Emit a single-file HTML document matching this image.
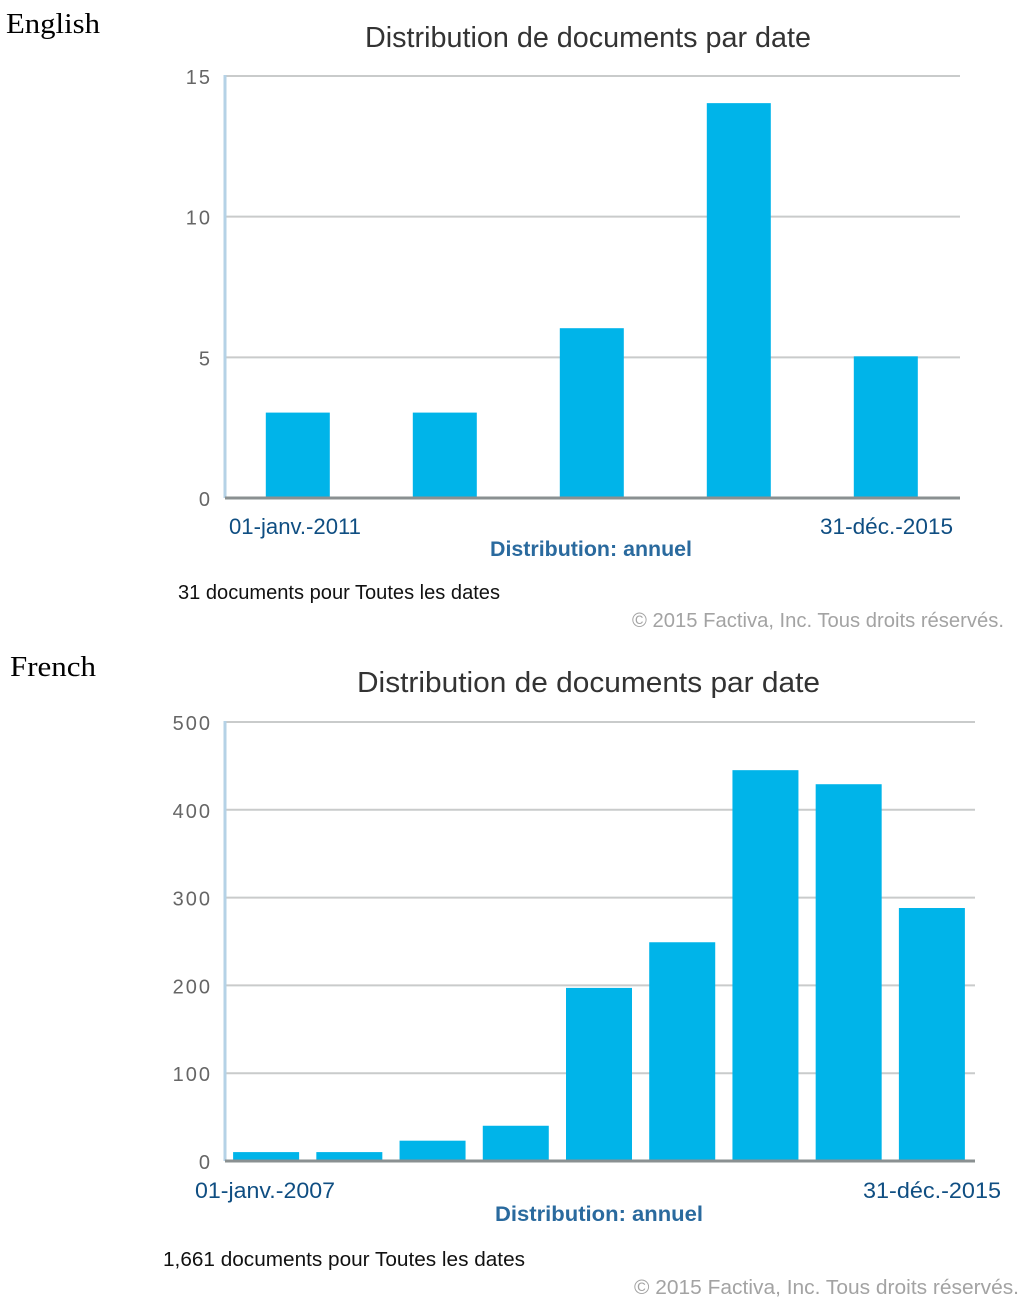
<!DOCTYPE html>
<html lang="fr">
<head>
<meta charset="utf-8">
<title>Distribution de documents par date</title>
<style>
html,body{margin:0;padding:0;background:#fff;width:1024px;height:1307px;overflow:hidden}
svg{display:block}
text{font-family:"Liberation Sans",sans-serif;filter:blur(.3px)}
.lang{font-family:"Liberation Serif",serif;font-size:28px;fill:#000}
.title{font-size:29px;fill:#333}
.ytick{font-size:20px;fill:#666;letter-spacing:2px}
.date{font-size:22px;fill:#0f4e82}
.dist{font-size:21px;font-weight:bold;fill:#2a6a9e}
.count{font-size:20px;fill:#111}
.copy{font-size:20px;fill:#a3a3a3}
</style>
</head>
<body>
<svg id="figure" width="1024" height="1307" viewBox="0 0 1024 1307" xmlns="http://www.w3.org/2000/svg">
  <text class="lang" x="6" y="33" textLength="94" lengthAdjust="spacingAndGlyphs">English</text>
  <text class="title" x="365" y="47" textLength="446" lengthAdjust="spacingAndGlyphs">Distribution de documents par date</text>
  <text class="date" x="229" y="534" textLength="132" lengthAdjust="spacingAndGlyphs">01-janv.-2011</text>
  <text class="date" x="820" y="534" textLength="133" lengthAdjust="spacingAndGlyphs">31-déc.-2015</text>
  <text class="dist" x="490" y="556" textLength="202" lengthAdjust="spacingAndGlyphs">Distribution: annuel</text>
  <text class="count" x="178" y="599" textLength="322" lengthAdjust="spacingAndGlyphs">31 documents pour Toutes les dates</text>
  <text class="copy" x="632" y="627" textLength="372" lengthAdjust="spacingAndGlyphs">© 2015 Factiva, Inc. Tous droits réservés.</text>

  <text class="lang" x="10" y="676" textLength="86" lengthAdjust="spacingAndGlyphs">French</text>
  <text class="title" x="357" y="692" textLength="463" lengthAdjust="spacingAndGlyphs">Distribution de documents par date</text>
  <text class="date" x="195" y="1198" textLength="140" lengthAdjust="spacingAndGlyphs">01-janv.-2007</text>
  <text class="date" x="863" y="1198" textLength="138" lengthAdjust="spacingAndGlyphs">31-déc.-2015</text>
  <text class="dist" x="495" y="1221" textLength="208" lengthAdjust="spacingAndGlyphs">Distribution: annuel</text>
  <text class="count" x="163" y="1266" textLength="362" lengthAdjust="spacingAndGlyphs">1,661 documents pour Toutes les dates</text>
  <text class="copy" x="634" y="1294" textLength="385" lengthAdjust="spacingAndGlyphs">© 2015 Factiva, Inc. Tous droits réservés.</text>
</svg>
<script>
const englishCategories = ['2011', '2012', '2013', '2014', '2015'];
const englishValues = [3, 3, 6, 14, 5];
const englishTicks = [0, 5, 10, 15];
const frenchCategories = ['2007', '2008', '2009', '2010', '2011', '2012', '2013', '2014', '2015'];
const frenchValues = [9, 9, 22, 39, 196, 248, 444, 428, 287];
const frenchTicks = [0, 100, 200, 300, 400, 500];

const SVG_NS = 'http://www.w3.org/2000/svg';
const figure = document.getElementById('figure');

function drawChart(categories, values, ticks, box) {
  const maxTick = ticks[ticks.length - 1];
  const yScale = function (v) { return box.bottom - (v / maxTick) * (box.bottom - box.top); };
  const band = (box.bandRight - box.bandLeft) / categories.length;
  const xCenter = function (i) { return box.bandLeft + band * (i + 0.5); };

  ticks.forEach(function (t) {
    if (t !== 0) {
      const grid = document.createElementNS(SVG_NS, 'line');
      
      
      grid.setAttribute('x1', box.left);
      grid.setAttribute('x2', box.right);
      grid.setAttribute('y1', yScale(t));
      grid.setAttribute('y2', yScale(t));
      grid.setAttribute('stroke', '#c9cbcb');
      grid.setAttribute('stroke-width', '2');
      figure.appendChild(grid);
    }
    const label = document.createElementNS(SVG_NS, 'text');
    
    
    label.setAttribute('class', 'ytick');
    label.setAttribute('x', box.left - 13);
    label.setAttribute('y', yScale(t) + 8);
    label.setAttribute('text-anchor', 'end');
    label.textContent = String(t);
    figure.appendChild(label);
  });

  const yAxis = document.createElementNS(SVG_NS, 'line');
  
  
  yAxis.setAttribute('x1', box.left);
  yAxis.setAttribute('x2', box.left);
  yAxis.setAttribute('y1', box.top - 1);
  yAxis.setAttribute('y2', box.bottom);
  yAxis.setAttribute('stroke', '#b5d2e6');
  yAxis.setAttribute('stroke-width', '3');
  figure.appendChild(yAxis);

  values.forEach(function (v, i) {
    const bar = document.createElementNS(SVG_NS, 'rect');
    
    
    bar.setAttribute('data-category', categories[i]);
    bar.setAttribute('x', xCenter(i) - box.barWidth / 2);
    bar.setAttribute('y', yScale(v) - 1);
    bar.setAttribute('width', box.barWidth);
    bar.setAttribute('height', box.bottom - yScale(v) + 1);
    bar.setAttribute('fill', '#00b4e9');
    figure.appendChild(bar);
  });

  const xAxis = document.createElementNS(SVG_NS, 'line');
  
  
  xAxis.setAttribute('x1', box.left);
  xAxis.setAttribute('x2', box.right);
  xAxis.setAttribute('y1', box.bottom);
  xAxis.setAttribute('y2', box.bottom);
  xAxis.setAttribute('stroke', '#8a9091');
  xAxis.setAttribute('stroke-width', '3');
  figure.appendChild(xAxis);
}

drawChart(englishCategories, englishValues, englishTicks, { left: 225, right: 960, bandLeft: 224.3, bandRight: 959.3, top: 76, bottom: 498, barWidth: 64 });
drawChart(frenchCategories, frenchValues, frenchTicks, { left: 225, right: 975, bandLeft: 224.5, bandRight: 973.5, top: 722, bottom: 1161, barWidth: 66 });
</script>
</body>
</html>
